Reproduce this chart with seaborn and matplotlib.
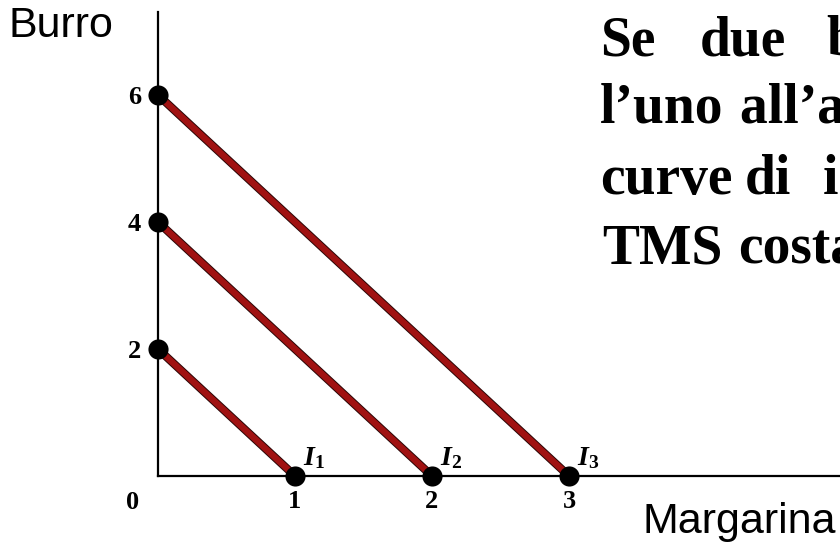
import matplotlib
matplotlib.use("Agg")
import matplotlib.pyplot as plt
import matplotlib.patheffects as pe
import seaborn as sns
import pandas as pd

# Perfect substitutes: straight indifference curves with constant TMS
burro_intercepts = [2, 4, 6]
margarina_intercepts = [1, 2, 3]
curve_names = ["I1", "I2", "I3"]
curve_labels = ["$I_1$", "$I_2$", "$I_3$"]
y_ticks = [2, 4, 6]
x_ticks = [1, 2, 3]

# Heading words per line (justified layout, runs off the right edge)
heading_lines = [
    ["Se", "due", "beni sono perfetti sostituti"],
    ["l\u2019uno", "all\u2019altro, le"],
    ["curve", "di", "indifferenza sono rette con"],
    ["TMS", "costante"],
]
heading_x = [[600, 700, 827], [600, 740], [600, 745, 823], [602, 738]]
heading_baseline = [55, 123, 194, 264]

sns.set_theme(style="white")
plt.rcParams["font.family"] = ["Liberation Serif", "DejaVu Sans"]
plt.rcParams["mathtext.fontset"] = "custom"
plt.rcParams["mathtext.it"] = "Liberation Serif:italic:bold"
plt.rcParams["mathtext.rm"] = "Liberation Serif:bold"
plt.rcParams["text.color"] = "black"
plt.rcParams["xtick.color"] = "black"
plt.rcParams["ytick.color"] = "black"
plt.rcParams["axes.labelcolor"] = "black"

W, H = 840, 547
fig = plt.figure(figsize=(W / 100, H / 100), dpi=100)
fig.patch.set_facecolor("white")

# pixel geometry of the axes
x0, y0, ytop = 158, 476, 12
ux, uy = 137, 63.5
ax = fig.add_axes([x0 / W, (H - y0) / H, (W - x0) / W, (y0 - ytop) / H])
ax.set_facecolor("white")
ax.set_xlim(0, (W - x0) / ux)
ax.set_ylim(0, (y0 - ytop) / uy)

rows = []
for name, bx, by in zip(curve_names, margarina_intercepts, burro_intercepts):
    rows.append({"curve": name, "margarina": 0, "burro": by})
    rows.append({"curve": name, "margarina": bx, "burro": 0})
df = pd.DataFrame(rows)

line_red = "#a01212"
sns.lineplot(data=df, x="margarina", y="burro", units="curve", estimator=None,
             color=line_red, lw=4.6, ax=ax, clip_on=False, zorder=3,
             path_effects=[pe.Stroke(linewidth=6.0, foreground="#2a0606"), pe.Normal()])
sns.scatterplot(data=df, x="margarina", y="burro", color="black", s=210,
                edgecolor="black", linewidth=0, ax=ax, clip_on=False, zorder=4)

for bx, lab in zip(margarina_intercepts, curve_labels):
    ax.annotate(lab, xy=(bx, 0), xytext=(6, 8), textcoords="offset points",
                fontsize=20, ha="left", va="baseline", color="black")

sns.despine(ax=ax)
for side in ["left", "bottom"]:
    ax.spines[side].set_color("black")
    ax.spines[side].set_linewidth(1.6)
    ax.spines[side].set_zorder(2)

ax.set_xticks(x_ticks)
ax.set_xticklabels([str(t) for t in x_ticks])
ax.set_yticks(y_ticks)
ax.set_yticklabels([str(t) for t in y_ticks])
ax.tick_params(axis="x", length=0, pad=10, labelsize=19, labelcolor="black")
ax.tick_params(axis="y", length=0, pad=12, labelsize=19, labelcolor="black")
for t in ax.get_xticklabels() + ax.get_yticklabels():
    t.set_fontweight("bold")
    t.set_family("Liberation Serif")
ax.set_xlabel("")
ax.set_ylabel("")
ax.annotate("0", xy=(0, 0), xytext=(-18, -19), textcoords="offset points",
            fontsize=19, fontweight="bold", ha="center", va="center", color="black")

# axis titles
fig.text(8 / W, 1 - 37 / H, "Burro", fontsize=31, family="Liberation Sans",
         ha="left", va="baseline", color="black")
fig.text(642 / W, 1 - 533 / H, "Margarina", fontsize=31, family="Liberation Sans",
         ha="left", va="baseline", color="black")

# heading
for words, xs, yb in zip(heading_lines, heading_x, heading_baseline):
    for w, xp in zip(words, xs):
        fig.text(xp / W, 1 - yb / H, w, fontsize=40, fontweight="bold",
                 family="Liberation Serif", ha="left", va="baseline", color="black")

fig.savefig("out.png", dpi=100)
